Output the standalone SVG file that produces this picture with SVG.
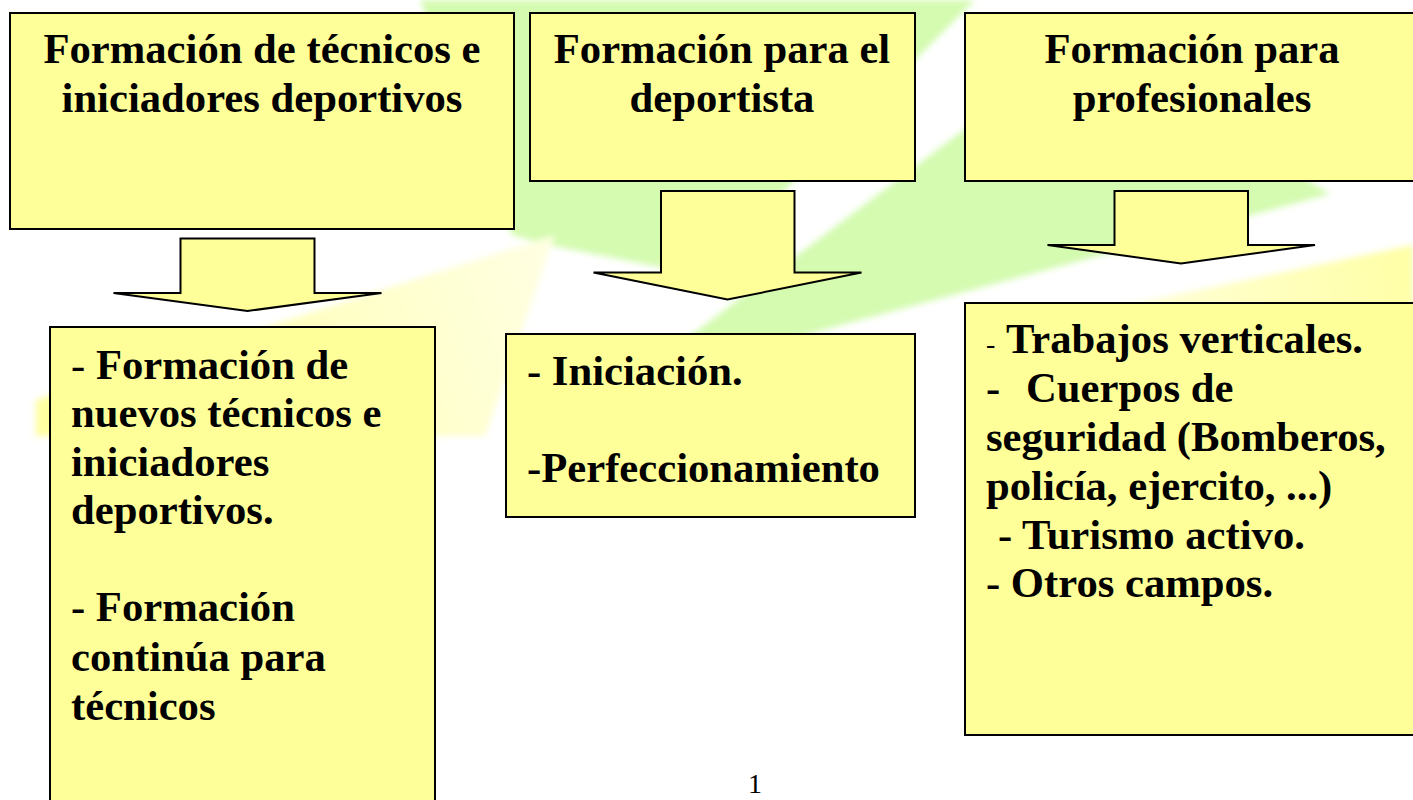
<svg xmlns="http://www.w3.org/2000/svg" width="1413" height="800" viewBox="0 0 1413 800">
<defs>
  <filter id="soft" x="-10%" y="-10%" width="120%" height="120%"><feGaussianBlur stdDeviation="3"/></filter>
  <linearGradient id="yl" x1="555" y1="235" x2="60" y2="436" gradientUnits="userSpaceOnUse">
    <stop offset="0" stop-color="#FFFFE4"/>
    <stop offset="1" stop-color="#FFFFA0"/>
  </linearGradient>
  <linearGradient id="yr" x1="960" y1="330" x2="1413" y2="270" gradientUnits="userSpaceOnUse">
    <stop offset="0" stop-color="#FFFFF6"/>
    <stop offset="1" stop-color="#FFFFA6"/>
  </linearGradient>
</defs>
<style>
  .box{fill:#FFFF99;stroke:#000;stroke-width:2}
  .arrow{fill:#FFFF99;stroke:#000;stroke-width:2;stroke-linejoin:miter}
  .t{font-family:"Liberation Serif","Times New Roman",serif;font-weight:bold;font-size:42.67px;fill:#000}
  .c{text-anchor:middle}
  .n{font-weight:normal}
  .pg{font-family:"Liberation Serif","Times New Roman",serif;font-size:28px;fill:#000;text-anchor:middle}
  .green{fill:#D4FBB0}
</style>
<rect width="1413" height="800" fill="#FFFFFF"/>
<g id="background" filter="url(#soft)">
  <polygon class="green" points="420,0 975,0 700,275 548,245 512,235"/>
  <polygon class="green" points="629,382 1083,40 1330,194"/>
  <polygon fill="url(#yl)" points="555,235 36,400 36,436 485,436"/>
  <polygon fill="url(#yr)" points="960,340 1413,245 1413,320"/>
</g>
<g id="connectors">
  <polygon class="arrow" points="180.5,238.5 314.5,238.5 314.5,293 381.5,293 247.5,311 113.5,293 180.5,293"/>
  <polygon class="arrow" points="661,191 794.5,191 794.5,272.5 861.5,272.5 727.5,299.5 593.5,272.5 661,272.5"/>
  <polygon class="arrow" points="1114.5,191 1248,191 1248,245 1315,245 1181,263.5 1047.5,245 1114.5,245"/>
</g>
<g id="node-tecnicos">
  <rect class="box" x="10" y="13" width="504" height="216"/>
  <text class="t c" x="262" y="63">Formación de técnicos e</text>
  <text class="t c" x="262" y="112">iniciadores deportivos</text>
</g>
<g id="node-deportista">
  <rect class="box" x="530" y="13" width="385" height="168"/>
  <text class="t c" x="722" y="63">Formación para el</text>
  <text class="t c" x="722" y="112">deportista</text>
</g>
<g id="node-profesionales">
  <rect class="box" x="965" y="13" width="454" height="168"/>
  <text class="t c" x="1192" y="63">Formación para</text>
  <text class="t c" x="1192" y="112">profesionales</text>
</g>
<g id="node-tecnicos-detalle">
  <rect class="box" x="50" y="327" width="385" height="480"/>
  <text class="t" x="71" y="379"><tspan class="n">-</tspan> Formación de</text>
  <text class="t" x="71" y="427">nuevos técnicos e</text>
  <text class="t" x="71" y="476">iniciadores</text>
  <text class="t" x="71" y="524">deportivos.</text>
  <text class="t" x="71" y="621">- Formación</text>
  <text class="t" x="71" y="671">continúa para</text>
  <text class="t" x="71" y="720">técnicos</text>
</g>
<g id="node-deportista-detalle">
  <rect class="box" x="506" y="334" width="409" height="183"/>
  <text class="t" x="527" y="385">- Iniciación.</text>
  <text class="t" x="527" y="482">-Perfeccionamiento</text>
</g>
<g id="node-profesionales-detalle">
  <rect class="box" x="965" y="303" width="454" height="432"/>
  <text class="t" x="986" y="353"><tspan class="n" font-size="28">-</tspan><tspan x="1006">Trabajos verticales.</tspan></text>
  <text class="t" x="986" y="402">-<tspan x="1026">Cuerpos de</tspan></text>
  <text class="t" x="986" y="451">seguridad (Bomberos,</text>
  <text class="t" x="986" y="500">policía, ejercito, ...)</text>
  <text class="t" x="998" y="549">- Turismo activo.</text>
  <text class="t" x="986" y="597">- Otros campos.</text>
</g>
<text class="pg" x="755" y="793">1</text>
</svg>
